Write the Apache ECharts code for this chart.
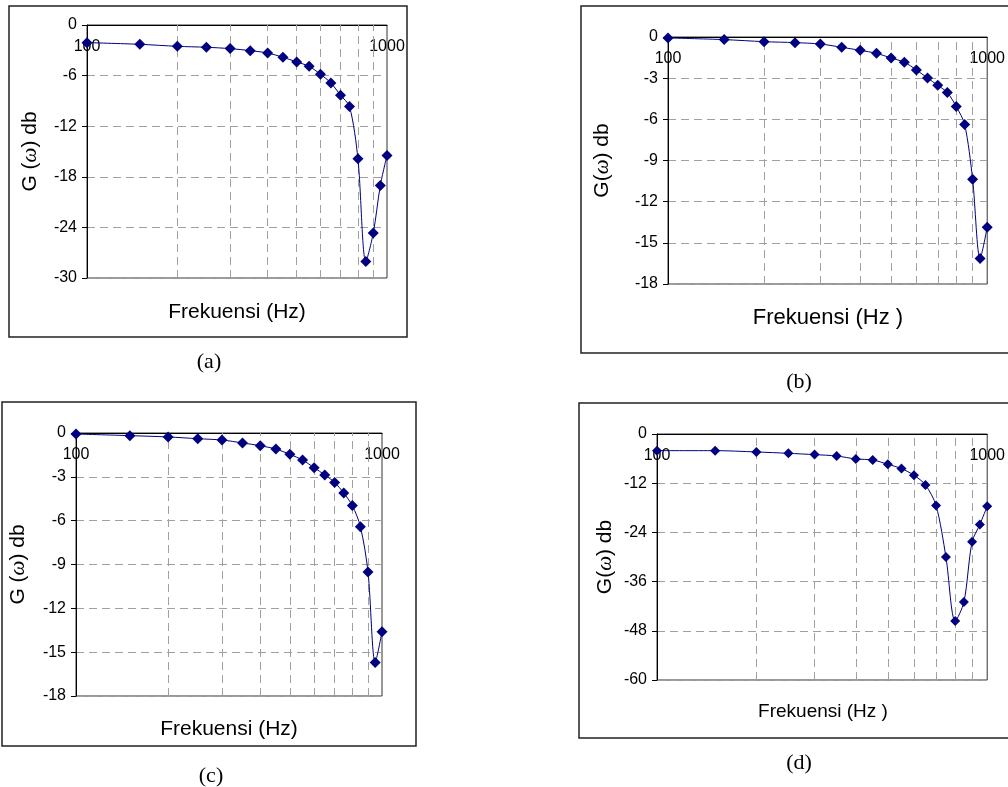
<!DOCTYPE html>
<html>
<head>
<meta charset="utf-8">
<script src="https://cdn.jsdelivr.net/npm/echarts@6.0.0/dist/echarts.min.js"></script>
<style>
    html, body { margin: 0; padding: 0; background: #fff; }
    #chart { width: 1008px; height: 787px; }
</style>
</head>
<body>
<div id="chart"></div>
<script>
// frekuensi (Hz), same for all four panels
var freq = [100, 150, 200, 250, 300, 350, 400, 450, 500, 550, 600, 650, 700, 750, 800, 850, 900, 950, 1000];
// gain G(w) in db
var gainA = [-2.09, -2.29, -2.53, -2.64, -2.80, -3.04, -3.32, -3.83, -4.38, -4.90, -5.84, -6.87, -8.33, -9.67, -15.87, -28.03, -24.67, -19.03, -15.47];
var gainB = [-0.07, -0.19, -0.34, -0.41, -0.51, -0.75, -0.97, -1.19, -1.53, -1.84, -2.40, -2.99, -3.52, -4.05, -5.07, -6.38, -10.36, -16.14, -13.86];
var gainC = [-0.07, -0.18, -0.27, -0.39, -0.48, -0.68, -0.87, -1.10, -1.46, -1.85, -2.37, -2.87, -3.38, -4.11, -4.97, -6.41, -9.51, -15.70, -13.60];
var gainD = [-4.06, -4.06, -4.38, -4.71, -5.03, -5.36, -6.09, -6.33, -7.39, -8.44, -10.06, -12.42, -17.45, -30.03, -45.62, -40.99, -26.30, -22.08, -17.61];
// vertical dashed grid lines between the decade ticks
var minorFreq = [200, 300, 400, 500, 600, 700, 800, 900];
// y axis ranges: [min, step]
var yRangeA = [-30, 6];
var yRangeB = [-18, 3];
var yRangeC = [-18, 3];
var yRangeD = [-60, 12];

var sans = "Liberation Sans";
var serif = "Liberation Serif";
var navy = "#000080";

var panels = [
    { grid: { left: 87, top: 25, width: 300, height: 253 }, data: gainA, y: yRangeA, name: "G ({w|ω}) db", gap: 46, size: 11 },
    { grid: { left: 668, top: 37, width: 321, height: 247 }, data: gainB, y: yRangeB, name: "G({w|ω}) db", gap: 55, size: 11 },
    { grid: { left: 76, top: 433, width: 306, height: 263 }, data: gainC, y: yRangeC, name: "G ({w|ω}) db", gap: 47, size: 11 },
    { grid: { left: 657, top: 434, width: 333, height: 246 }, data: gainD, y: yRangeD, name: "G({w|ω}) db", gap: 41, size: 10 }
];

var chart = echarts.init(document.getElementById("chart"));

var option = {
    animation: false,
    backgroundColor: "#fff",
    grid: panels.map(function (p) {
        return {
            left: p.grid.left, top: p.grid.top, width: p.grid.width, height: p.grid.height,
            show: true, borderColor: "#333", borderWidth: 1
        };
    }),
    xAxis: panels.map(function (p, i) {
        return {
            gridIndex: i,
            type: "log",
            logBase: 10,
            min: 100,
            max: 1000,
            position: "top",
            axisLine: { show: true, onZero: false, lineStyle: { color: "#000", width: 1 } },
            axisTick: { show: false },
            axisLabel: {
                inside: true, margin: 14, fontSize: 16, fontFamily: sans, color: "#000",
                showMinLabel: true, showMaxLabel: true,
                formatter: function (v) { return String(Math.round(v)); }
            },
            splitLine: { show: false }
        };
    }),
    yAxis: panels.map(function (p, i) {
        return {
            gridIndex: i,
            type: "value",
            min: p.y[0],
            max: 0,
            interval: p.y[1],
            axisLine: { show: true, onZero: false, lineStyle: { color: "#000", width: 1 } },
            axisTick: { show: true, length: 5, lineStyle: { color: "#000" } },
            axisLabel: { fontSize: 16, fontFamily: sans, color: "#000", margin: 10 },
            splitLine: { show: true, lineStyle: { color: "#a0a0a0", type: [8, 5], width: 1 } },
            name: p.name,
            nameLocation: "middle",
            nameRotate: 90,
            nameGap: p.gap,
            nameTextStyle: {
                fontSize: 21, fontFamily: sans, color: "#000",
                rich: { w: { fontSize: 21, fontFamily: serif, fontStyle: "italic", color: "#000" } }
            }
        };
    }),
    series: panels.map(function (p, i) {
        return {
            type: "line",
            xAxisIndex: i,
            yAxisIndex: i,
            data: freq.map(function (f, k) { return [f, p.data[k]]; }),
            smooth: 0.3,
            symbol: "diamond",
            symbolSize: p.size,
            itemStyle: { color: navy },
            lineStyle: { color: navy, width: 1 },
            z: 3,
            markLine: {
                z: 1,
                silent: true,
                symbol: "none",
                label: { show: false },
                lineStyle: { color: "#a0a0a0", type: [8, 5], width: 1 },
                data: minorFreq.map(function (f) { return { xAxis: f }; })
            }
        };
    }),
    graphic: [
        // panel frames
        { type: "rect", shape: { x: 9, y: 6, width: 398, height: 331 }, style: { fill: "none", stroke: "#222", lineWidth: 1.5 }, z: -1 },
        { type: "rect", shape: { x: 581, y: 6, width: 432, height: 347 }, style: { fill: "none", stroke: "#222", lineWidth: 1.5 }, z: -1 },
        { type: "rect", shape: { x: 2, y: 402, width: 414, height: 344 }, style: { fill: "none", stroke: "#222", lineWidth: 1.5 }, z: -1 },
        { type: "rect", shape: { x: 579, y: 403, width: 434, height: 335 }, style: { fill: "none", stroke: "#222", lineWidth: 1.5 }, z: -1 },
        // x axis titles
        { type: "text", x: 237, y: 312, style: { text: "Frekuensi (Hz)", font: "21px " + sans, fill: "#000", align: "center", verticalAlign: "middle" } },
        { type: "text", x: 828, y: 318, style: { text: "Frekuensi (Hz )", font: "22px " + sans, fill: "#000", align: "center", verticalAlign: "middle" } },
        { type: "text", x: 229, y: 729, style: { text: "Frekuensi (Hz)", font: "21px " + sans, fill: "#000", align: "center", verticalAlign: "middle" } },
        { type: "text", x: 823, y: 712, style: { text: "Frekuensi (Hz )", font: "19px " + sans, fill: "#000", align: "center", verticalAlign: "middle" } },
        // captions
        { type: "text", x: 209, y: 362, style: { text: "(a)", font: "22px " + serif, fill: "#000", align: "center", verticalAlign: "middle" } },
        { type: "text", x: 799, y: 382, style: { text: "(b)", font: "22px " + serif, fill: "#000", align: "center", verticalAlign: "middle" } },
        { type: "text", x: 211, y: 776, style: { text: "(c)", font: "22px " + serif, fill: "#000", align: "center", verticalAlign: "middle" } },
        { type: "text", x: 799, y: 763, style: { text: "(d)", font: "22px " + serif, fill: "#000", align: "center", verticalAlign: "middle" } }
    ]
};

chart.setOption(option);
window.addEventListener("resize", chart.resize);
</script>
</body>
</html>
